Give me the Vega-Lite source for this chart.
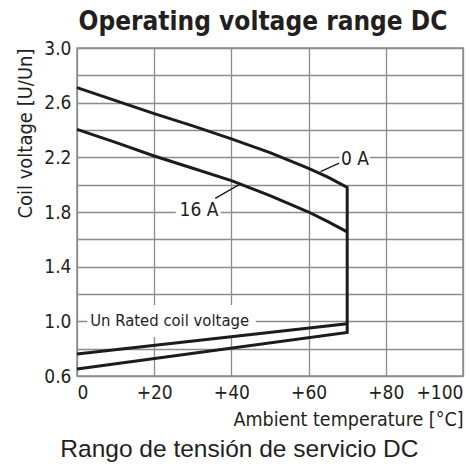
{
  "$schema": "https://vega.github.io/schema/vega-lite/v6.json",
  "autosize": {"type": "pad"},
  "padding": {"left": 15, "top": 8, "right": 6, "bottom": 0},
  "background": "white",
  "title": {
    "text": "Rango de tensión de servicio DC",
    "orient": "bottom",
    "anchor": "middle",
    "font": "Liberation Sans, Arial, sans-serif",
    "fontSize": 24.5,
    "fontWeight": "normal",
    "color": "#231f20",
    "offset": 9
  },
  "config": {
    "view": {"stroke": "#8c8c8c", "strokeWidth": 1.5},
    "axis": {
      "labelFont": "'DejaVu Sans Condensed', 'Liberation Sans Narrow', Roboto, sans-serif",
      "labelFontSize": 19,
      "labelColor": "#231f20",
      "titleFont": "'DejaVu Sans Condensed', 'Liberation Sans Narrow', Roboto, sans-serif",
      "titleFontSize": 20,
      "titleFontWeight": "normal",
      "titleColor": "#231f20",
      "gridColor": "#8c8c8c",
      "gridWidth": 1.3,
      "gridOpacity": 1,
      "ticks": false,
      "domain": false
    }
  },
  "datasets": {
    "curves": [
      {"series": "A", "order": 1, "t": 0, "v": 2.71},
      {"series": "A", "order": 2, "t": 10, "v": 2.615},
      {"series": "A", "order": 3, "t": 20, "v": 2.52},
      {"series": "A", "order": 4, "t": 30, "v": 2.43},
      {"series": "A", "order": 5, "t": 40, "v": 2.335},
      {"series": "A", "order": 6, "t": 50, "v": 2.235},
      {"series": "A", "order": 7, "t": 60, "v": 2.12},
      {"series": "A", "order": 8, "t": 65, "v": 2.055},
      {"series": "A", "order": 9, "t": 70, "v": 1.98},
      {"series": "A", "order": 10, "t": 70, "v": 0.918},
      {"series": "A", "order": 11, "t": 0, "v": 0.652},
      {"series": "B", "order": 1, "t": 0, "v": 2.405},
      {"series": "B", "order": 2, "t": 10, "v": 2.31},
      {"series": "B", "order": 3, "t": 20, "v": 2.21},
      {"series": "B", "order": 4, "t": 30, "v": 2.12},
      {"series": "B", "order": 5, "t": 40, "v": 2.03},
      {"series": "B", "order": 6, "t": 50, "v": 1.92},
      {"series": "B", "order": 7, "t": 60, "v": 1.8},
      {"series": "B", "order": 8, "t": 65, "v": 1.73},
      {"series": "B", "order": 9, "t": 70, "v": 1.655},
      {"series": "C", "order": 1, "t": 0, "v": 0.761},
      {"series": "C", "order": 2, "t": 70, "v": 0.982}
    ],
    "leaders": [
      {"series": "L1", "order": 1, "t": 67.9, "v": 2.157},
      {"series": "L1", "order": 2, "t": 63.1, "v": 2.095},
      {"series": "L2", "order": 1, "t": 35.8, "v": 1.9},
      {"series": "L2", "order": 2, "t": 42, "v": 2.0}
    ],
    "currentLabels": [
      {"label": "0 A", "t": 72.0, "v": 2.185},
      {"label": "16 A", "t": 31.6, "v": 1.815}
    ],
    "ratedLabel": [
      {"label": "Un Rated coil voltage", "t": 24.0, "v": 1.0}
    ],
    "boxes": [
      {"t": 68.0, "t2": 75.9, "v": 2.14, "v2": 2.25},
      {"t": 25.6, "t2": 37.2, "v": 1.75, "v2": 1.88},
      {"t": 2.7, "t2": 46.3, "v": 0.885, "v2": 1.12}
    ]
  },
  "vconcat": [
    {
      "width": 386,
      "height": 328,
      "title": {
        "text": "Operating voltage range DC",
        "font": "'Liberation Sans Narrow', 'DejaVu Sans Condensed', Roboto, sans-serif",
        "fontSize": 26,
        "fontWeight": "bold",
        "anchor": "middle",
        "color": "#231f20",
        "dx": -7,
        "offset": 4
      },
      "encoding": {
        "x": {
          "field": "t",
          "type": "quantitative",
          "scale": {"domain": [0, 100], "nice": false},
          "axis": {
            "values": [0, 20, 40, 60, 80, 100],
            "labelExpr": "datum.value > 0 ? '+' + datum.label : datum.label",
            "title": "Ambient temperature [°C]",
            "titleAnchor": "end",
            "titleAlign": "right",
            "titleFontSize": 19.5,
            "labelFlush": true,
            "labelPadding": 7,
            "titlePadding": 8
          }
        },
        "y": {
          "field": "v",
          "type": "quantitative",
          "scale": {"domain": [0.6, 3.0], "nice": false, "zero": false},
          "axis": {
            "values": [0.6, 0.8, 1.0, 1.2, 1.4, 1.6, 1.8, 2.0, 2.2, 2.4, 2.6, 2.8, 3.0],
            "format": ".1f",
            "labelExpr": "(round(datum.value * 10) % 4 == 2) ? datum.label : ''",
            "title": "Coil voltage [U/Un]",
            "titleAnchor": "end",
            "labelPadding": 6,
            "titlePadding": 8
          }
        }
      },
      "layer": [
        {
          "data": {"name": "boxes"},
          "mark": {"type": "rect", "fill": "white", "stroke": null},
          "encoding": {
            "x2": {"field": "t2"},
            "y2": {"field": "v2"}
          }
        },
        {
          "data": {"name": "curves"},
          "mark": {"type": "line", "color": "#1c1c1c", "strokeWidth": 3, "strokeJoin": "miter"},
          "encoding": {
            "detail": {"field": "series", "type": "nominal"},
            "order": {"field": "order", "type": "quantitative"}
          }
        },
        {
          "data": {"name": "leaders"},
          "mark": {"type": "line", "color": "#1c1c1c", "strokeWidth": 1.4},
          "encoding": {
            "detail": {"field": "series", "type": "nominal"},
            "order": {"field": "order", "type": "quantitative"}
          }
        },
        {
          "data": {"name": "currentLabels"},
          "mark": {"type": "text", "font": "'DejaVu Sans Condensed', 'Liberation Sans Narrow', Roboto, sans-serif", "fontSize": 19, "color": "#231f20", "align": "center", "baseline": "middle"},
          "encoding": {
            "text": {"field": "label", "type": "nominal"}
          }
        },
        {
          "data": {"name": "ratedLabel"},
          "mark": {"type": "text", "font": "'DejaVu Sans Condensed', 'Liberation Sans Narrow', Roboto, sans-serif", "fontSize": 16.5, "color": "#231f20", "align": "center", "baseline": "middle"},
          "encoding": {
            "text": {"field": "label", "type": "nominal"}
          }
        }
      ]
    }
  ]
}
